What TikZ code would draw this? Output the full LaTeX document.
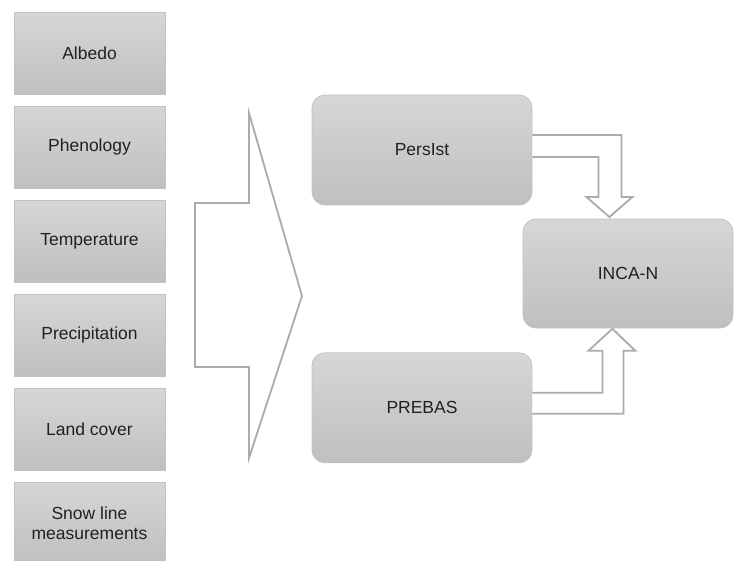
\documentclass[tikz,border=0pt]{standalone}
\usepackage{fontspec}
\setmainfont{Liberation Sans}
\usetikzlibrary{positioning}
\definecolor{cboxtop}{rgb}{0.84, 0.84, 0.84}
\definecolor{cboxbot}{rgb}{0.75, 0.75, 0.75}
\definecolor{cedge}{rgb}{0.76, 0.76, 0.76}
\definecolor{carrow}{rgb}{0.67, 0.67, 0.67}
\definecolor{ctext}{rgb}{0.13, 0.13, 0.13}

\begin{document}
\begin{tikzpicture}[x=1pt, y=-1pt,
    inbox/.style={draw=cedge, line width=0.8pt, top color=cboxtop, bottom color=cboxbot,
      minimum width=151pt, minimum height=82pt, inner sep=0pt, align=center,
      text=ctext, font=\fontsize{17.5}{20}\selectfont},
    modelbox/.style={inbox, rounded corners=13pt, minimum width=220pt, minimum height=110pt},
    blockarrow/.style={draw=carrow, line width=1.8pt, fill=white, line join=miter}]

  \useasboundingbox (0, 0) rectangle (734, 560);

  % input boxes
  \foreach \txt [count=\i] in {Albedo, Phenology, Temperature, Precipitation, Land cover, {Snow line\\measurements}} {
    \node [inbox] (in\i) at (89.5, {53 + (\i-1)*94}) {\txt};
  }

  % big arrow from inputs to models
  \draw [blockarrow] (195, 203) -- (249, 203) -- (249, 113) -- (302, 296)
    -- (249, 458) -- (249, 367) -- (195, 367) -- cycle;

  % models
  \node [modelbox] (persist) at (422, 150) {PersIst};
  \node [modelbox, below=147pt of persist] (prebas) {PREBAS};
  \node [modelbox, minimum width=210pt, minimum height=109pt] (inca) at (628, 273.5) {INCA-N};

  % arrows into INCA-N
  \draw [blockarrow] (persist.east) ++(0, -15) -- ++(89, 0) -- ++(0, 62) -- ++(11, 0)
    -- ++(-23, 20) -- ++(-23, -20) -- ++(12, 0) -- ++(0, -40) -- ++(-66, 0);
  \draw [blockarrow] (prebas.east) ++(0, 6) -- ++(91, 0) -- ++(0, -63) -- ++(12, 0)
    -- ++(-23, -22) -- ++(-24, 22) -- ++(14, 0) -- ++(0, 42) -- ++(-70, 0);
\end{tikzpicture}
\end{document}
